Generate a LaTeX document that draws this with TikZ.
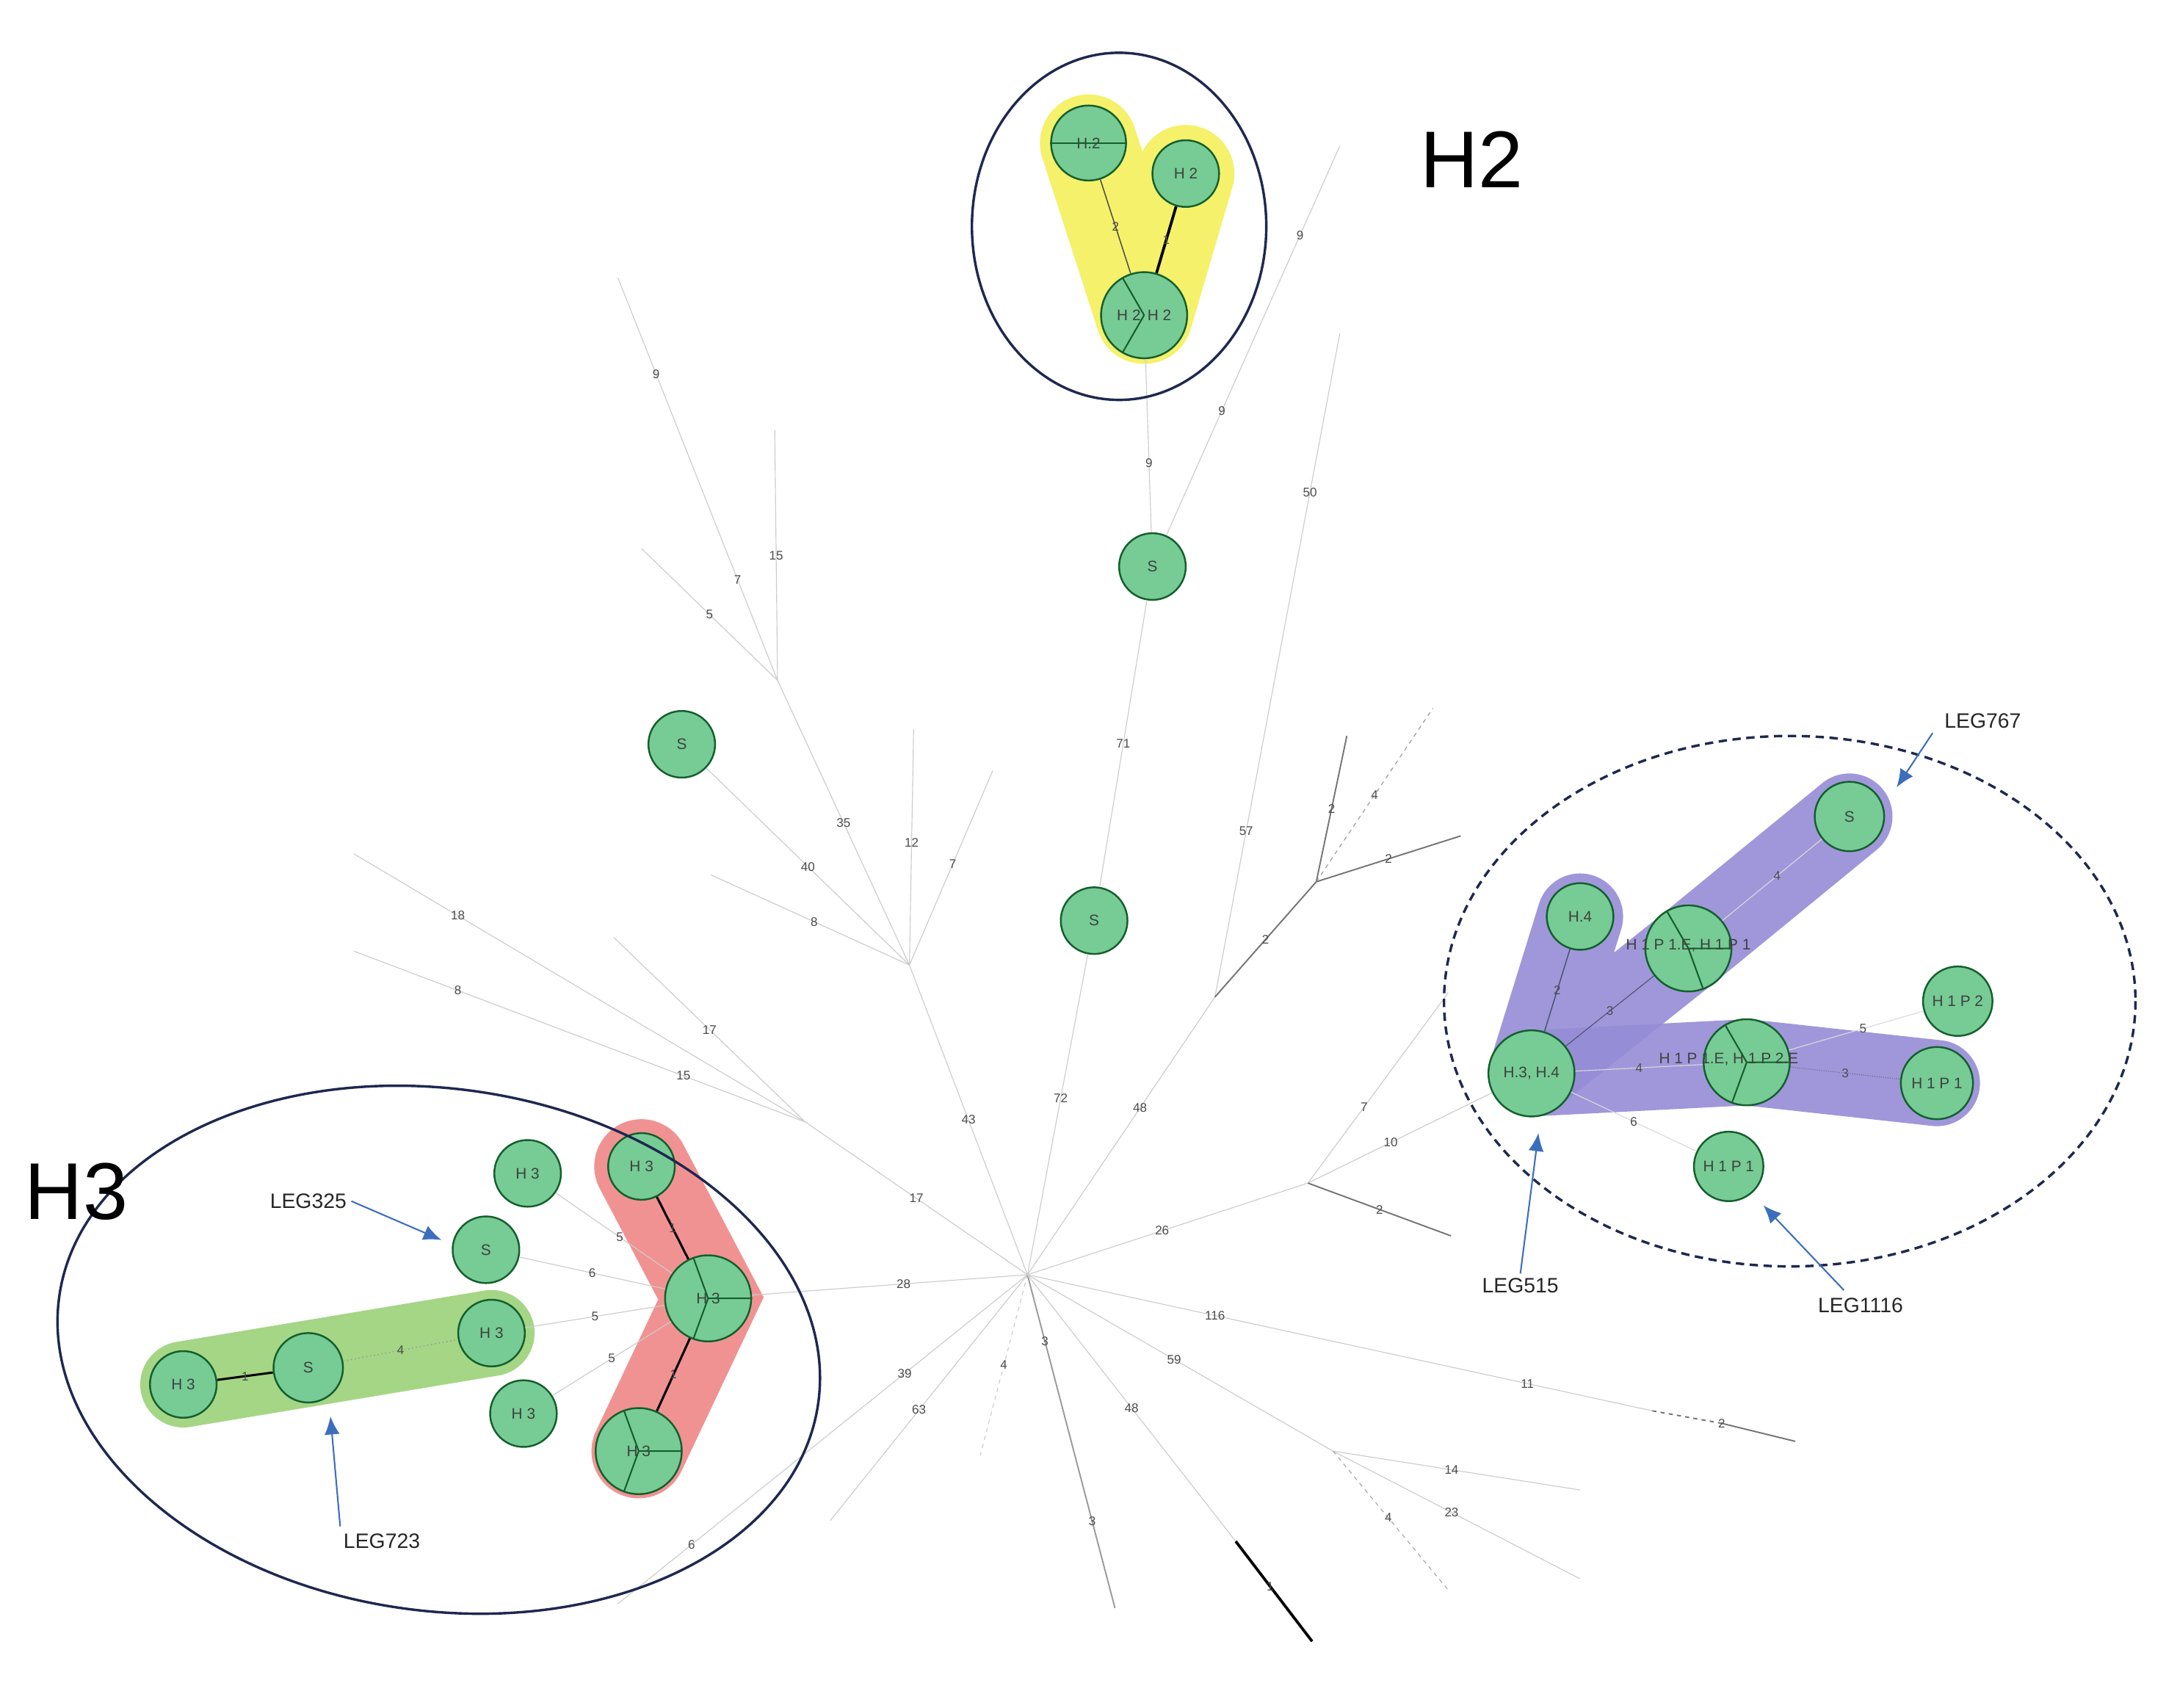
\documentclass[tikz,border=0pt]{standalone}
\usepackage{fontspec}
\setmainfont{Liberation Sans}
\begin{document}
\begin{tikzpicture}[x=1pt,y=-1pt,
  nd/.style={circle,draw=ndline,line width=1.3pt,fill=ndfill,inner sep=0pt,font=\fontsize{11}{11}\selectfont,text=black!75},
  sm/.style={nd,minimum size=48pt},
  bg/.style={nd,minimum size=62pt},
  el/.style={font=\fontsize{9}{9}\selectfont,text=black!70,inner sep=1pt,fill=white,fill opacity=0,text opacity=1},
  br/.style={draw=black!20,line width=0.6pt},
  brd/.style={draw=black!55,line width=1pt},
  leg/.style={font=\fontsize{15}{15}\selectfont,text=black!85},
  legarr/.style={draw=arrblue,line width=1.1pt,-{Latex[length=13pt,width=11pt]}},
  hl/.style={line cap=round,line join=round,opacity=0.9}
]
\usetikzlibrary{arrows.meta}
\definecolor{ndfill}{RGB}{118,204,148}
\definecolor{ndline}{RGB}{20,95,45}
\definecolor{navy}{RGB}{30,40,80}
\definecolor{arrblue}{RGB}{60,110,190}
\definecolor{hyel}{RGB}{245,240,90}
\definecolor{hpur}{RGB}{150,140,215}
\definecolor{hred}{RGB}{240,135,135}
\definecolor{hgrn}{RGB}{155,210,120}
\useasboundingbox (0,0) rectangle (1560,1230);
\fill[white] (0,0) rectangle (1560,1230);

% ---------- coordinates of the tree ----------
\coordinate (hub) at (740,918);
\coordinate (J1) at (655,695);
\coordinate (Ja) at (560,490);
\coordinate (J2) at (580,808);
\coordinate (J3) at (960,1045);
\coordinate (J4) at (942,852);
\coordinate (J5a) at (875,718);
\coordinate (J5) at (948,635);
\coordinate (Jr) at (1190,1016);
\coordinate (Jr2) at (1240,1025);
\coordinate (Jb) at (890,1110);

% ---------- highlights ----------
\draw[hl,hyel,line width=70pt] (784,103) -- (824,227) -- (854,125);
\draw[hl,hpur,line width=62pt] (1332,588) -- (1216,683) -- (1103,773) -- (1138,660);
\draw[hl,hpur,line width=62pt] (1103,773) -- (1258,765) -- (1395,780);
\draw[hl,hred,line width=68pt,line join=miter,line cap=round] (462,840) -- (512,935) -- (460,1045);
\draw[hl,hgrn,line width=62pt,line cap=round] (132,997) -- (354,960);

% ---------- nodes ----------
\node[sm,minimum size=54pt] (h2a) at (784,103) {H.2};
\node[sm] (h2b) at (854,125) {H 2};
\node[bg] (h2c) at (824,227) {H 2 \,H 2};
\node[sm] (s1) at (830,408) {S};
\node[sm] (s2) at (788,663) {S};
\node[sm] (s3) at (491,536) {S};

\node[sm] (h3a) at (380,845) {H 3};
\node[sm] (s4) at (350,900) {S};
\node[sm] (h3b) at (354,960) {H 3};
\node[sm] (h3c) at (377,1018) {H 3};
\node[sm] (h3r1) at (462,840) {H 3};
\node[bg] (h3r2) at (510,935) {H 3};
\node[bg] (h3r3) at (460,1045) {H 3};
\node[sm] (h3g) at (132,997) {H 3};
\node[sm,minimum size=50pt] (s5) at (222,985) {S};

\node[sm,minimum size=50pt] (s6) at (1332,588) {S};
\node[sm] (h4) at (1138,660) {H.4};
\node[bg] (p1e) at (1216,683) {};
\node[bg] (h34) at (1103,773) {H.3, H.4};
\node[bg] (p2e) at (1258,765) {};
\node[sm,minimum size=52pt] (p1r) at (1395,780) {H 1 P 1};
\node[sm,minimum size=50pt] (p2) at (1410,721) {H 1 P 2};
\node[sm,minimum size=50pt] (p1b) at (1245,840) {H 1 P 1};

% pie divisions
\draw[ndline,line width=1.3pt] (h2a.west) -- (h2a.east);
\draw[ndline,line width=1.1pt] (h2c.center) -- ++(120:31) (h2c.center) -- ++(240:31);
\draw[ndline,line width=1.1pt] (h3r2.center) -- (h3r2.east) (h3r2.center) -- ++(110:31) (h3r2.center) -- ++(250:31);
\draw[ndline,line width=1.1pt] (h3r3.center) -- (h3r3.east) (h3r3.center) -- ++(110:31) (h3r3.center) -- ++(250:31);
\draw[ndline,line width=1.1pt] (p1e.center) -- ++(70:31) (p1e.center) -- ++(240:31) (p1e.center) -- ++(0:31);
\draw[ndline,line width=1.1pt] (p2e.center) -- ++(110:31) (p2e.center) -- ++(240:31) (p2e.center) -- ++(0:31);
\node[font=\fontsize{11}{11}\selectfont,text=black!75] at (1216,681) {H 1 P 1.E, H 1 P 1};
\node[font=\fontsize{11}{11}\selectfont,text=black!75] at (1245,763) {H 1 P 1.E, H 1 P 2.E};

% ---------- tree branches ----------
\begin{scope}[on background layer/.style={}]
\draw[br] (hub) -- (s2) node[el,pos=0.55] {72};
\draw[br] (s2) -- (s1) node[el,midway] {71};
\draw[br] (s1) -- (h2c) node[el,pos=0.4] {9};
\coordinate (t9) at (965,105);
\draw[br] (s1) -- (t9) node[el,pos=0.32] {9} node[el,pos=0.77] {9};
\draw[br] (hub) -- (J1) node[el,midway] {43};
\draw[br] (J1) -- (Ja) node[el,pos=0.5] {35};
\coordinate (t1) at (445,200);
\coordinate (t2) at (558,310);
\coordinate (t3) at (462,395);
\draw[br] (Ja) -- (t1) node[el,pos=0.25] {7} node[el,pos=0.76] {9};
\draw[br] (Ja) -- (t2) node[el,pos=0.5] {15};
\draw[br] (Ja) -- (t3) node[el,pos=0.5] {5};
\draw[br] (J1) -- (s3) node[el,pos=0.5] {40};
\coordinate (t4) at (512,630);
\coordinate (t5) at (658,525);
\coordinate (t6) at (715,555);
\draw[br] (J1) -- (t4) node[el,pos=0.48] {8};
\draw[br] (J1) -- (t5) node[el,pos=0.52] {12};
\draw[br] (J1) -- (t6) node[el,pos=0.52] {7};
\draw[br] (hub) -- (J2) node[el,pos=0.5] {17};
\coordinate (t7) at (255,615);
\coordinate (t8) at (255,685);
\coordinate (t10) at (442,675);
\draw[br] (J2) -- (t7) node[el,pos=0.77] {18};
\draw[br] (J2) -- (t8) node[el,pos=0.27] {15} node[el,pos=0.77] {8};
\draw[br] (J2) -- (t10) node[el,pos=0.5] {17};
\draw[br] (hub) -- (h3r2) node[el,pos=0.45] {28};
\coordinate (t11) at (445,1155);
\coordinate (t12) at (598,1095);
\coordinate (t13) at (706,1048);
\coordinate (t14) at (803,1158);
\draw[br] (hub) -- (t11) node[el,pos=0.3] {39} node[el,pos=0.82] {6};
\draw[br] (hub) -- (t12) node[el,pos=0.55] {63};
\draw[br,dashed] (hub) -- (t13) node[el,pos=0.5] {4};
\draw[brd,draw=black!40] (hub) -- (t14) node[el,pos=0.2] {3} node[el,pos=0.74] {3};
\coordinate (t15) at (945,1182);
\draw[br] (hub) -- (Jb) node[el,pos=0.5] {48};
\draw[black,line width=2pt] (Jb) -- (t15) node[el,pos=0.45] {1};
\draw[br] (hub) -- (J3) node[el,pos=0.48] {59};
\coordinate (t16) at (1138,1073);
\coordinate (t17) at (1138,1137);
\coordinate (t18) at (1043,1145);
\draw[br] (J3) -- (t16) node[el,pos=0.48] {14};
\draw[br] (J3) -- (t17) node[el,pos=0.48] {23};
\draw[br,dashed,draw=black!35] (J3) -- (t18) node[el,pos=0.48] {4};
\draw[br] (hub) -- (Jr) node[el,pos=0.3] {116} node[el,pos=0.8] {11};
\draw[brd,dashed] (Jr) -- (Jr2);
\coordinate (t19) at (1293,1038);
\draw[brd] (Jr2) -- (t19);
\node[el] at (Jr2) {2};
\draw[br] (hub) -- (J4) node[el,pos=0.48] {26};
\coordinate (t20) at (1043,715);
\coordinate (t21) at (1045,890);
\draw[br] (J4) -- (t20) node[el,pos=0.4] {7};
\draw[br] (J4) -- (h34) node[el,pos=0.45] {10};
\draw[brd] (J4) -- (t21) node[el,pos=0.5] {2};
\draw[br] (hub) -- (J5a) node[el,pos=0.6] {48};
\coordinate (t22) at (965,240);
\draw[br] (J5a) -- (t22) node[el,pos=0.25] {57} node[el,pos=0.76] {50};
\coordinate (t23) at (970,530);
\coordinate (t24) at (1032,510);
\coordinate (t25) at (1052,602);
\draw[brd] (J5a) -- (J5) node[el,pos=0.5] {2};
\draw[brd] (J5) -- (t23) node[el,pos=0.5] {2};
\draw[br,dashed,draw=black!40] (J5) -- (t24) node[el,pos=0.5] {4};
\draw[brd] (J5) -- (t25) node[el,pos=0.5] {2};
\end{scope}

% ---------- cluster edges ----------
\draw[black!70,line width=0.8pt] (h2a) -- (h2c) node[el,midway] {2};
\draw[black,line width=2pt] (h2b) -- (h2c) node[el,midway] {1};
\draw[br] (h3a) -- (h3r2) node[el,pos=0.55] {5};
\draw[br] (s4) -- (h3r2) node[el,pos=0.5] {6};
\draw[br] (h3b) -- (h3r2) node[el,pos=0.5] {5};
\draw[br] (h3c) -- (h3r2) node[el,pos=0.5] {5};
\draw[black,line width=1.6pt] (h3r1) -- (h3r2) node[el,midway] {1};
\draw[black,line width=1.6pt] (h3r2) -- (h3r3) node[el,midway] {1};
\draw[black,line width=1.6pt] (h3g) -- (s5) node[el,midway] {1};
\draw[black!40,line width=0.8pt,dotted] (s5) -- (h3b) node[el,midway] {4};
\draw[navy!80,line width=0.8pt] (h4) -- (h34) node[el,midway] {2};
\draw[navy!80,line width=0.6pt] (h34) -- (p1e) node[el,pos=0.5] {3};
\draw[black!15,line width=0.6pt] (s6) -- (p1e) node[el,pos=0.45] {4};
\draw[black!15,line width=0.6pt] (h34) -- (p2e) node[el,pos=0.5] {4};
\draw[navy!70,line width=0.6pt,densely dotted] (p2e) -- (p1r) node[el,pos=0.5] {3};
\draw[black!15,line width=0.6pt] (p2e) -- (p2) node[el,pos=0.55] {5};
\draw[black!15,line width=0.6pt] (h34) -- (p1b) node[el,pos=0.5] {6};

% ---------- cluster outlines ----------
\draw[navy,line width=1.8pt] (806,163) ellipse [x radius=106,y radius=125];
\draw[navy,line width=1.8pt,rotate around={-8:(316,972)}] (316,972) ellipse [x radius=276,y radius=188];
\draw[navy,line width=1.8pt,dashed,dash pattern=on 6pt off 4pt] (1289,721) ellipse [x radius=249,y radius=191];

\node[font=\fontsize{58}{58}\selectfont] (lh2) at (1060,115) {H2};
\node[font=\fontsize{58}{58}\selectfont] (lh3) at (55,858) {H3};

% ---------- LEG labels ----------
\node[leg] (l325) at (222,865) {LEG325};
\coordinate (a325) at (318,893);
\draw[legarr] (l325.east) -- (a325);
\node[leg] (l723) at (275,1110) {LEG723};
\coordinate (a723) at (238,1020);
\draw[legarr] (l723.north -| 245,0) ++(0,-2) -- (a723);
\node[leg] (l767) at (1428,519) {LEG767};
\coordinate (a767) at (1366,567);
\draw[legarr] (l767.south west) ++(-5,0) -- (a767);
\node[leg] (l515) at (1095,926) {LEG515};
\coordinate (a515) at (1108,816);
\draw[legarr] (l515.north) -- (a515);
\node[leg] (l1116) at (1340,940) {LEG1116};
\coordinate (a1116) at (1270,868);
\draw[legarr] (l1116.north) ++(-12,-2) -- (a1116);
\end{tikzpicture}
\end{document}
